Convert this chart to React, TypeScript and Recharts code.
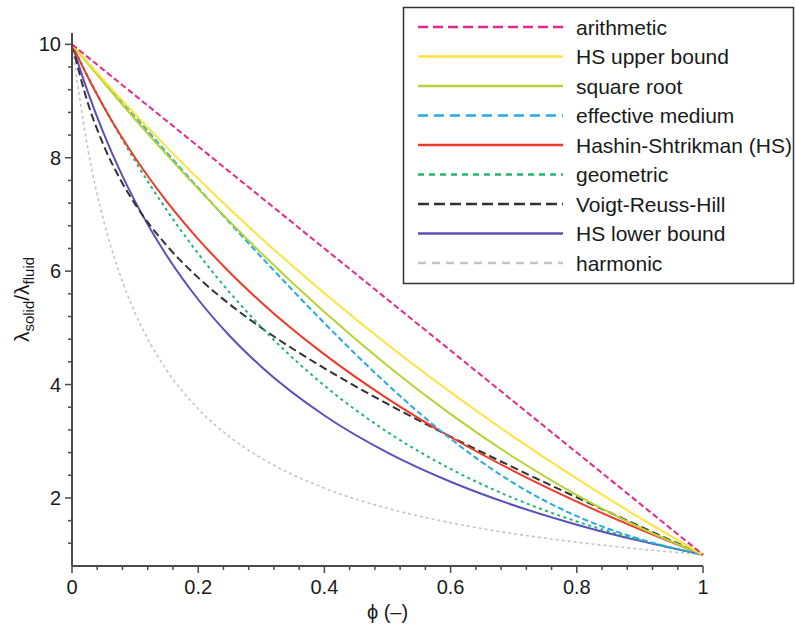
import React from 'react';
import { LineChart, Line, XAxis, YAxis, Label } from 'recharts';

const PHI = [0, 0.025, 0.05, 0.075, 0.1, 0.15, 0.2, 0.25, 0.3, 0.4, 0.5, 0.6, 0.7, 0.8, 0.9, 1];

const ARITHMETIC = [10, 9.775, 9.55, 9.325, 9.1, 8.65, 8.2, 7.75, 7.3, 6.4, 5.5, 4.6, 3.7, 2.8, 1.9, 1];
const HS_UPPER = [10, 9.682, 9.371, 9.066, 8.767, 8.188, 7.632, 7.097, 6.582, 5.61, 4.706, 3.864, 3.077, 2.34, 1.649, 1];
const SQUARE_ROOT = [10, 9.661, 9.328, 9.001, 8.679, 8.054, 7.452, 6.873, 6.318, 5.278, 4.331, 3.478, 2.718, 2.052, 1.479, 1];
const EFFECTIVE_MEDIUM = [10, 9.679, 9.359, 9.041, 8.723, 8.093, 7.469, 6.854, 6.25, 5.084, 4, 3.043, 2.261, 1.679, 1.274, 1];
const HASHIN_SHTRIKMAN = [10, 9.423, 8.903, 8.431, 7.999, 7.232, 6.566, 5.977, 5.449, 4.533, 3.753, 3.075, 2.474, 1.935, 1.446, 1];
const GEOMETRIC = [10, 9.441, 8.913, 8.414, 7.943, 7.079, 6.31, 5.623, 5.012, 3.981, 3.162, 2.512, 1.995, 1.585, 1.259, 1];
const VOIGT_REUSS_HILL = [10, 8.969, 8.224, 7.648, 7.182, 6.453, 5.886, 5.414, 5.002, 4.287, 3.659, 3.081, 2.535, 2.01, 1.5, 1];
const HS_LOWER = [10, 9.163, 8.435, 7.796, 7.231, 6.276, 5.5, 4.857, 4.316, 3.455, 2.8, 2.286, 1.871, 1.529, 1.243, 1];
const HARMONIC = [10, 8.163, 6.897, 5.97, 5.263, 4.255, 3.571, 3.077, 2.703, 2.174, 1.818, 1.563, 1.37, 1.22, 1.099, 1];

const X_TICKS = [0, 0.04, 0.08, 0.12, 0.16, 0.2, 0.24, 0.28, 0.32, 0.36, 0.4, 0.44, 0.48, 0.52, 0.56, 0.6, 0.64, 0.68, 0.72, 0.76, 0.8, 0.84, 0.88, 0.92, 0.96, 1];
const X_MAJOR = [0, 0.2, 0.4, 0.6, 0.8, 1];
const X_MAJOR_LABELS = ['0', '0.2', '0.4', '0.6', '0.8', '1'];
const Y_TICKS = [1.2, 1.6, 2, 2.4, 2.8, 3.2, 3.6, 4, 4.4, 4.8, 5.2, 5.6, 6, 6.4, 6.8, 7.2, 7.6, 8, 8.4, 8.8, 9.2, 9.6, 10];
const Y_MAJOR = [2, 4, 6, 8, 10];
const Y_MAJOR_LABELS = ['2', '4', '6', '8', '10'];

const SERIES = [
  { key: 'arithmetic', name: 'arithmetic', values: ARITHMETIC, color: '#e8288c', dash: '6 3', legendDash: '10 5', type: 'linear' },
  { key: 'hsUpper', name: 'HS upper bound', values: HS_UPPER, color: '#ffe23c', dash: undefined, legendDash: undefined, type: 'monotone' },
  { key: 'squareRoot', name: 'square root', values: SQUARE_ROOT, color: '#b5d334', dash: undefined, legendDash: undefined, type: 'monotone' },
  { key: 'effectiveMedium', name: 'effective medium', values: EFFECTIVE_MEDIUM, color: '#29abe2', dash: '6 3', legendDash: '10 6', type: 'monotone' },
  { key: 'hashin', name: 'Hashin-Shtrikman (HS)', values: HASHIN_SHTRIKMAN, color: '#ee3a28', dash: undefined, legendDash: undefined, type: 'monotone' },
  { key: 'geometric', name: 'geometric', values: GEOMETRIC, color: '#22b573', dash: '3 3.5', legendDash: '6 5', type: 'monotone' },
  { key: 'vrh', name: 'Voigt-Reuss-Hill', values: VOIGT_REUSS_HILL, color: '#333333', dash: '8 4', legendDash: '11 5', type: 'monotone' },
  { key: 'hsLower', name: 'HS lower bound', values: HS_LOWER, color: '#5a4fbd', dash: undefined, legendDash: undefined, type: 'monotone' },
  { key: 'harmonic', name: 'harmonic', values: HARMONIC, color: '#c4c4c4', dash: '3 3', legendDash: '8 6', type: 'monotone' },
];

const DATA = PHI.map((phi, i) => {
  const row: Record<string, number> = { phi };
  SERIES.forEach((s) => {
    row[s.key] = s.values[i];
  });
  return row;
});

const FONT = '"Liberation Sans", Arial, Helvetica, sans-serif';
const AXIS_COLOR = '#4a4a4a';

const near = (arr: number[], v: number) => arr.findIndex((m) => Math.abs(m - v) < 1e-6);

const XTick = (props: any) => {
  const { x, y, payload } = props;
  const idx = near(X_MAJOR, payload.value);
  const major = idx >= 0;
  return (
    <g>
      <line x1={x} y1={y} x2={x} y2={y + (major ? 7 : 4)} stroke={AXIS_COLOR} strokeWidth={1.5} />
      {major && (
        <text x={x} y={y + 28} textAnchor="middle" fontSize={20} fontFamily={FONT} fill="#1a1a1a">
          {X_MAJOR_LABELS[idx]}
        </text>
      )}
    </g>
  );
};

const YTick = (props: any) => {
  const { x, y, payload } = props;
  const idx = near(Y_MAJOR, payload.value);
  const major = idx >= 0;
  return (
    <g>
      <line x1={x - (major ? 7 : 4)} y1={y} x2={x} y2={y} stroke={AXIS_COLOR} strokeWidth={1.5} />
      {major && (
        <text x={x - 11} y={y + 7} textAnchor="end" fontSize={20} fontFamily={FONT} fill="#1a1a1a">
          {Y_MAJOR_LABELS[idx]}
        </text>
      )}
    </g>
  );
};

const XLabel = (props: any) => {
  const vb = props.viewBox || { x: 72, y: 566, width: 631, height: 62 };
  return (
    <text x={vb.x + vb.width / 2} y={vb.y + 53} textAnchor="middle" fontSize={20} fontFamily={FONT} fill="#1a1a1a">
      ϕ (–)
    </text>
  );
};

const YLabel = (props: any) => {
  const vb = props.viewBox || { x: 0, y: 33, width: 72, height: 533 };
  const cx = vb.x + 29;
  const cy = vb.y + vb.height / 2;
  return (
    <text
      x={cx}
      y={cy}
      transform={`rotate(-90, ${cx}, ${cy})`}
      textAnchor="middle"
      fontSize={21}
      fontFamily={FONT}
      fill="#1a1a1a"
    >
      <tspan>λ</tspan>
      <tspan fontSize={15} dy={5}>solid</tspan>
      <tspan dy={-5}>/λ</tspan>
      <tspan fontSize={15} dy={5}>fluid</tspan>
    </text>
  );
};

const LegendBox = () => {
  const top = 27;
  const step = 29.5;
  return (
    <svg
      width={795}
      height={628}
      style={{ position: 'absolute', left: 0, top: 0, pointerEvents: 'none' }}
    >
      <rect x={403.5} y={7.5} width={390} height={276} fill="#ffffff" stroke="#333333" strokeWidth={1.5} />
      {SERIES.map((s, i) => {
        const yy = top + i * step;
        return (
          <g key={s.key}>
            <line
              x1={418}
              y1={yy}
              x2={563}
              y2={yy}
              stroke={s.color}
              strokeWidth={2.5}
              strokeDasharray={s.legendDash}
            />
            <text x={576} y={yy + 7.5} fontSize={21} fontFamily={FONT} fill="#1a1a1a">
              {s.name}
            </text>
          </g>
        );
      })}
    </svg>
  );
};

export default function App() {
  return (
    <div style={{ position: 'absolute', left: 0, top: 0, width: 795, height: 628, background: '#ffffff' }}>
      <LineChart
        width={795}
        height={628}
        data={DATA}
        margin={{ top: 33, right: 92, bottom: 0, left: 0 }}
      >
        <XAxis
          dataKey="phi"
          type="number"
          domain={[0, 1]}
          ticks={X_TICKS}
          interval={0}
          tickSize={0}
          tickMargin={0}
          tickLine={false}
          tick={(p: any) => <XTick {...p} />}
          axisLine={{ stroke: AXIS_COLOR, strokeWidth: 2 }}
          height={62}
        >
          <Label content={(p: any) => <XLabel {...p} />} />
        </XAxis>
        <YAxis
          type="number"
          domain={[0.8, 10.2]}
          allowDataOverflow
          ticks={Y_TICKS}
          interval={0}
          tickSize={0}
          tickMargin={0}
          tickLine={false}
          tick={(p: any) => <YTick {...p} />}
          axisLine={{ stroke: AXIS_COLOR, strokeWidth: 2 }}
          width={72}
        >
          <Label content={(p: any) => <YLabel {...p} />} />
        </YAxis>
        {SERIES.slice().reverse().map((s) => (
          <Line
            key={s.key}
            dataKey={s.key}
            name={s.name}
            type={s.type as any}
            stroke={s.color}
            strokeWidth={s.key === 'harmonic' ? 1.6 : 2}
            strokeDasharray={s.dash}
            dot={false}
            activeDot={false}
            isAnimationActive={false}
          />
        ))}
      </LineChart>
      <LegendBox />
    </div>
  );
}
